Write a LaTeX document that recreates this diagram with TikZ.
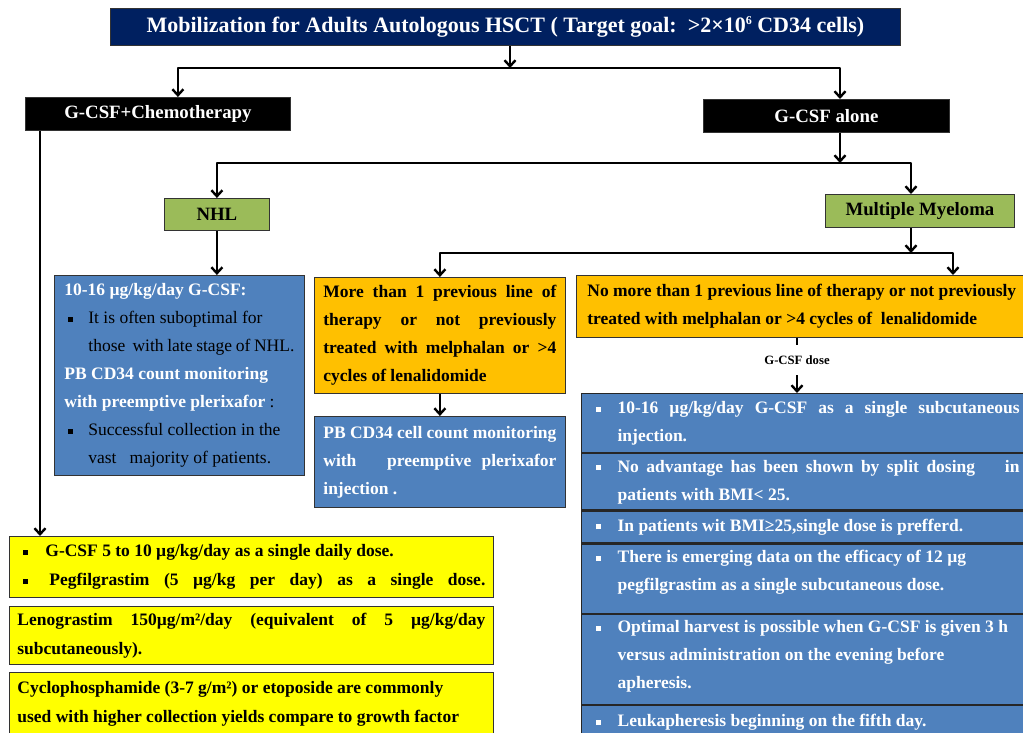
\documentclass[tikz,border=0pt]{standalone}
\usepackage{fontspec}
\setmainfont{Liberation Serif}
\usetikzlibrary{arrows.meta,positioning}

\definecolor{navy}{RGB}{0,32,96}
\definecolor{leaf}{RGB}{155,187,89}
\definecolor{steel}{RGB}{79,129,189}
\definecolor{amber}{RGB}{255,192,0}
\definecolor{lemon}{RGB}{255,255,0}

\newcommand{\sqbul}{\rule[1.8pt]{5pt}{5pt}}
\newcommand{\bitem}[4][.]{\hangindent=#3\hangafter=1\noindent\makebox[#3][l]{\hspace*{#2}\textcolor{#1}{\sqbul}}{#4}\par}

\begin{document}
\begin{tikzpicture}[x=1pt, y=-1pt,
    box/.style={draw=black!80, line width=0.8pt, anchor=north west, inner ysep=0pt},
    arr/.style={line width=2.4pt, line join=round, -{Straight Barb[length=6pt,width=11pt]}},
    link/.style={line width=2.4pt},
    body/.style={font=\fontsize{17.5}{28}\selectfont\bfseries, align=justify},
    head/.style={font=\fontsize{18.8}{22}\selectfont\bfseries, inner sep=0pt},
    rowbox/.style={box, body, fill=steel, text=white, text width=429pt, inner xsep=9pt, draw=black!85, line width=1.2pt}]

    % Draw Frame
    \path[use as bounding box, fill=white] (0,0) rectangle (1023,733);

    % Draw Top Boxes
    \node[box, fill=navy, text=white, minimum width=790pt, minimum height=37pt,
          font=\fontsize{22}{26}\selectfont\bfseries] (title) at (110,8)
          {Mobilization for Adults Autologous HSCT ( Target goal:\ \ >2×10\raisebox{0.75ex}{\fontsize{12}{12}\selectfont 6} CD34 cells)};
    \node[box, head, fill=black, text=white, minimum width=265pt, minimum height=33pt] (chemo) at (25,97) {G-CSF+Chemotherapy};
    \node[box, head, fill=black, text=white, minimum width=246pt, minimum height=33pt] (alone) at (703,99) {G-CSF alone};
    \node[box, head, fill=leaf, minimum width=105pt, minimum height=32pt] (nhl) at (164,198) {NHL};
    \node[box, head, fill=leaf, minimum width=189pt, minimum height=33pt] (mm) at (825,194) {Multiple Myeloma};

    % Draw NHL Branch
    \node[box, body, fill=steel, text=white, text width=230pt, inner xsep=10pt, minimum height=200pt] (nhlbox) at (54,275) {%
      10-16 µg/kg/day G-CSF:\par
      \bitem[black]{4pt}{24pt}{\color{black}\mdseries It is often suboptimal for\newline those\ \ with late stage of NHL.}
      PB CD34 count monitoring\newline with preemptive plerixafor {\color{black}\mdseries :}\par
      \bitem[black]{4pt}{24pt}{\color{black}\mdseries Successful collection in the\newline vast\ \ \ majority of patients.}};

    % Draw Myeloma Branch
    \node[box, body, fill=amber, text width=233pt, inner xsep=9pt, minimum height=116pt] (or1) at (314,277)
          {More than 1 previous line of\linebreak therapy or not previously\linebreak treated with melphalan or >4\linebreak cycles of lenalidomide};
    \node[box, body, fill=steel, text=white, text width=233pt, inner xsep=9pt, minimum height=91pt] (pb) at (314,416)
          {PB CD34 cell count monitoring\linebreak with\ \ \ preemptive plerixafor\linebreak injection .};
    \node[box, body, fill=amber, text width=440pt, inner xsep=11pt, minimum height=62pt] (or2) at (576,275)
          {No more than 1 previous line of therapy or not previously\newline treated with melphalan or >4 cycles of\ \ lenalidomide};
    \node[font=\fontsize{12.7}{15}\selectfont\bfseries, inner ysep=10.5pt, inner xsep=0pt] (dose) at (797,360) {G-CSF dose};

    % Draw Dose Rows
    \node[rowbox, minimum height=59pt] (r1) at (581,393)
          {\bitem{5pt}{27pt}{10-16 µg/kg/day G-CSF as a single subcutaneous\linebreak injection.}};
    \node[rowbox, minimum height=56pt] (r2) at (r1.south west)
          {\bitem{5pt}{27pt}{No advantage has been shown by split dosing\ \ \ \ in\linebreak patients with BMI< 25.}};
    \node[rowbox, minimum height=32pt] (r3) at (r2.south west)
          {\bitem{5pt}{27pt}{In patients wit BMI≥25,single dose is prefferd.}};
    \node[rowbox, minimum height=69pt] (r4) at (r3.south west)
          {\bitem{5pt}{27pt}{There is emerging data on the efficacy of 12 µg\newline pegfilgrastim as a single subcutaneous dose.}\vspace*{12pt}};
    \node[rowbox, minimum height=90pt] (r5) at (r4.south west)
          {\bitem{5pt}{27pt}{Optimal harvest is possible when G-CSF is given 3 h\newline versus administration on the evening before\newline apheresis.}\vspace*{6pt}};
    \node[rowbox, minimum height=34pt] (r6) at (r5.south west)
          {\bitem{5pt}{27pt}{Leukapheresis beginning on the fifth day.}};

    % Draw Chemotherapy Boxes
    \node[box, body, fill=lemon, text width=468pt, inner xsep=8pt, minimum height=61pt,
          font=\fontsize{17.5}{29}\selectfont\bfseries] (yb1) at (9,536) {%
      \bitem{6pt}{28pt}{G-CSF 5 to 10 µg/kg/day as a single daily dose.}
      \noindent\makebox[28pt][l]{\hspace*{6pt}\sqbul}\hspace{4pt}Pegfilgrastim (5 µg/kg per day) as a single dose.\parfillskip=0pt\par};
    \node[box, body, fill=lemon, text width=468pt, inner xsep=8pt, minimum height=58pt,
          font=\fontsize{17.5}{29}\selectfont\bfseries] (yb2) at (9,606)
          {Lenograstim 150µg/m²/day (equivalent of 5 µg/kg/day\linebreak subcutaneously).};
    \node[box, body, fill=lemon, text width=468pt, inner xsep=8pt, minimum height=63pt,
          font=\fontsize{17.5}{29}\selectfont\bfseries] (yb3) at (9,672)
          {Cyclophosphamide (3-7 g/m²) or etoposide are commonly\newline used with higher collection yields compare to growth factor};

    % Draw Connectors
    \coordinate (j1) at (510,68);
    \coordinate (j2) at (840,163);
    \coordinate (j3) at (911,253);
    \draw[arr] (title.south -| j1) -- (j1);
    \draw[arr] (j1) -| ([xshift=20pt]chemo.north);
    \draw[arr] (j1) -| (alone.north -| j2);
    \draw[arr] (alone.south -| j2) -- (j2);
    \draw[arr] (j2) -| (nhl.north);
    \draw[arr] (j2) -| (mm.north -| j3);
    \draw[arr] (mm.south -| j3) -- (j3);
    \draw[arr] (j3) -| (or1.north);
    \draw[arr] (j3) -| ([xshift=377pt]or2.north west);
    \draw[arr] (nhl.south) -- (nhl.south |- nhlbox.north);
    \draw[arr] (or1.south) -- (pb.north);
    \draw[link] (dose.north |- or2.south) -- (dose.north);                % Short Stub
    \draw[arr] (dose.south) -- (dose.south |- r1.north);
    \draw[arr] ([xshift=15pt]chemo.south west) -- ([xshift=15pt]chemo.south west |- yb1.north);
\end{tikzpicture}
\end{document}
